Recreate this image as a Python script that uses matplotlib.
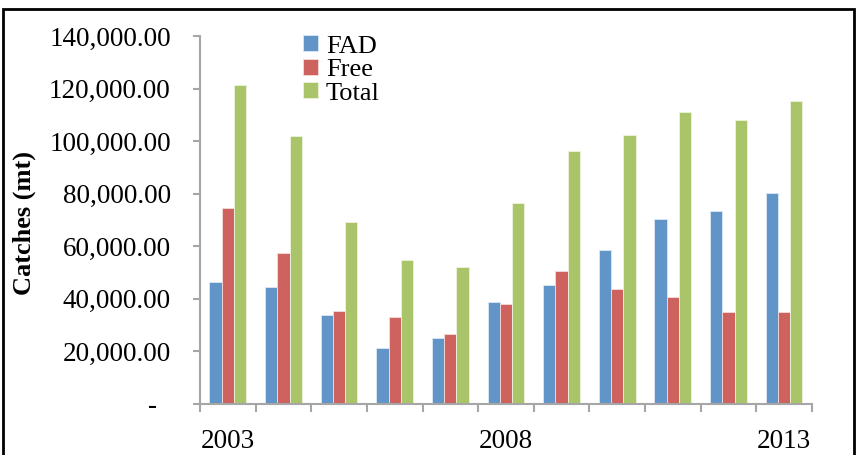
import matplotlib
matplotlib.use('Agg')
import matplotlib.pyplot as plt
import numpy as np
from matplotlib.patches import Rectangle
from matplotlib.ticker import FuncFormatter

plt.rcParams['font.family'] = ['Liberation Serif', 'DejaVu Serif']

# data
years = list(range(2003, 2014))
fad = [46500, 44400, 33800, 21300, 25200, 38700, 45400, 58600, 70200, 73300, 80100]
free = [74600, 57500, 35500, 33200, 26600, 37900, 50500, 43600, 40700, 35000, 35000]
total = [121300, 102000, 69300, 54800, 52000, 76500, 96200, 102500, 111000, 108200, 115200]
shown_years = [2003, 2008, 2013]

fig = plt.figure(figsize=(8.57, 4.55), dpi=100)
ax = fig.add_axes([0.2334, 0.1121, 0.714, 0.8088])

x = np.arange(len(years))
w = 0.22
ax.bar(x - w, fad, w, color='#6195C8', edgecolor='#dce8f4', linewidth=0.6, label='FAD')
ax.bar(x, free, w, color='#CD625E', edgecolor='#f4dcdb', linewidth=0.6, label='Free')
ax.bar(x + w, total, w, color='#AAC46A', edgecolor='#eef3dd', linewidth=0.6, label='Total')

ax.set_xlim(-0.5, len(years) - 0.5)
ax.set_ylim(0, 140000)
ax.set_yticks(range(0, 140001, 20000))
ax.yaxis.set_major_formatter(FuncFormatter(lambda v, p: '-  ' if v == 0 else f'{v:,.2f}'))

# category boundaries as ticks, labels only on some years
ax.set_xticks(np.arange(-0.5, len(years), 1.0), minor=True)
ax.set_xticks([years.index(y) for y in shown_years])
ax.set_xticklabels([str(y) for y in shown_years])
ax.tick_params(axis='x', which='major', length=0, pad=18, labelsize=19.5)
ax.tick_params(axis='x', which='minor', length=6, width=1.5, color='#a6a6a6')
ax.tick_params(axis='y', length=5, width=1.5, color='#a6a6a6', pad=16, labelsize=19.5)

for s in ['top', 'right']:
    ax.spines[s].set_visible(False)
for s in ['left', 'bottom']:
    ax.spines[s].set_color('#a6a6a6')
    ax.spines[s].set_linewidth(1.5)

fig.text(24 / 857, 1 - 223 / 455, 'Catches (mt)', rotation=90, ha='center', va='center',
         fontsize=19, fontweight='bold')

ax.legend(loc='upper left', bbox_to_anchor=(0.143, 1.045), frameon=False, fontsize=19,
          handlelength=0.55, handleheight=0.55, handletextpad=0.3, labelspacing=0.05,
          borderpad=0.1)

# frame around the whole picture
fig.patches.append(Rectangle((3 / 857, -0.05), 851 / 857, 1.05 - 9 / 455, transform=fig.transFigure,
                             fill=False, edgecolor='black', linewidth=2))

fig.savefig('out.png', dpi=100)
